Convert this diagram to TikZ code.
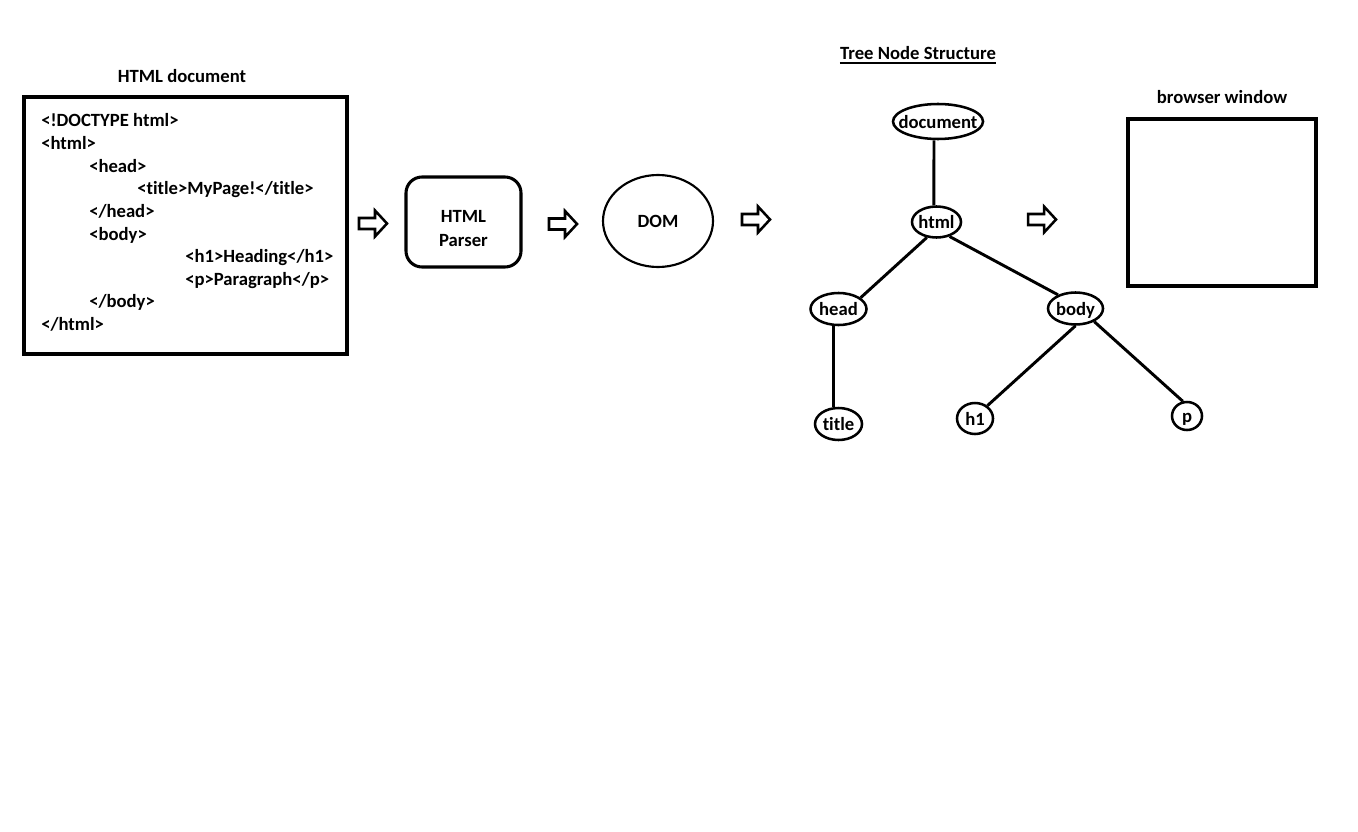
\documentclass[tikz,border=0pt]{standalone}
\usepackage{fontspec}
\setmainfont[Ligatures=NoCommon]{Carlito}
\usetikzlibrary{shapes.geometric,calc}
\newcommand\pxu{0.75pt}
\begin{document}
\begin{tikzpicture}[x=0.75pt,y=-0.75pt,
  txt/.style={font=\bfseries\fontsize{14}{17}\selectfont, inner sep=0pt},
  code/.style={txt, anchor=base west},
  frame/.style={draw, line width=2.3pt, inner sep=0pt},
  tnode/.style={draw, ellipse, line width=1.9pt, inner sep=0pt},
  tlabel/.style={txt, text height=10pt, text depth=0.2pt},
  edge/.style={line width=2.2pt},
  blockarrow/.pic={\draw[line width=1.9pt, miter limit=10]
    (0,-5.5) -- (16,-5.5) -- (16,-13) -- (28,0) -- (16,13) -- (16,5.5) -- (0,5.5) -- cycle;}
]
\useasboundingbox (0,0) rectangle (1358,831);

% source document
\node[txt, anchor=base] (doctitle) at (182,83) {HTML document};
\node[frame, minimum width=323*\pxu, minimum height=257*\pxu] (htmlbox) at (185.5,225.5) {};
\node[code] (c1)  at (41,127)    {<!DOCTYPE html>};
\node[code] (c2)  at (41,149.6)  {<html>};
\node[code] (c3)  at (89,172.2)  {<head>};
\node[code] (c4)  at (137,194.8) {<title>MyPage!</title>};
\node[code] (c5)  at (89,217.4)  {</head>};
\node[code] (c6)  at (89,240)    {<body>};
\node[code] (c7)  at (185,262.6) {<h1>Heading</h1>};
\node[code] (c8)  at (185,285.2) {<p>Paragraph</p>};
\node[code] (c9)  at (89,307.8)  {</body>};
\node[code] (c10) at (41,330.4)  {</html>};

% pipeline
\pic (arrA) at (359,223.5) {blockarrow};
\node[frame, rounded corners=16*\pxu, minimum width=115*\pxu, minimum height=90*\pxu] (parser) at (463.5,222) {};
\node[txt, align=center] (parsertext) at ($(parser)+(0,7)$) {HTML\\[1pt]Parser};
\pic (arrB) at (549,224) {blockarrow};
\node[draw, ellipse, line width=1.6pt, minimum width=110*\pxu, minimum height=92*\pxu, txt] (dom) at (658,221) {DOM};
\pic (arrC) at (742,219.5) {blockarrow};

% tree
\node[txt, anchor=base] (treetitle) at (918,60) {Tree Node Structure};
\draw[line width=1.3pt] ($(treetitle.base west)+(0,3)$) -- ($(treetitle.base east)+(0,3)$);

\node[tnode, minimum width=90*\pxu, minimum height=35*\pxu, label={[tlabel]center:document}] (doc) at (938,121.5) {};
\node[tnode, minimum width=49*\pxu, minimum height=31*\pxu, label={[tlabel]center:html}] (html) at (936.5,222) {};
\node[tnode, minimum width=56*\pxu, minimum height=32*\pxu, label={[tlabel]center:head}] (head) at (838.5,309) {};
\node[tnode, minimum width=55*\pxu, minimum height=32*\pxu, label={[tlabel]center:body}] (body) at (1075.5,308.5) {};
\node[tnode, minimum width=47*\pxu, minimum height=32*\pxu, label={[tlabel]center:title}] (title) at (838.5,424) {};
\node[tnode, minimum width=36*\pxu, minimum height=31*\pxu, label={[tlabel]center:h1}] (h1) at (975,418.5) {};
\node[tnode, minimum width=30*\pxu, minimum height=28*\pxu, label={[tlabel]center:p}] (p) at (1187,416) {};

\draw[edge] ([xshift=-3pt]doc.south) -- ([xshift=-2pt]html.north);
\draw[edge] (html.-122) -- (head.27);
\draw[edge] (html.-48) -- (body.142);
\draw[edge] ([xshift=-4pt]head.south) -- ([xshift=-4pt]title.north);
\draw[edge] (body.south) -- (h1.46);
\draw[edge] (body.-35) -- (p.106);

% output
\pic (arrD) at (1028,219.5) {blockarrow};
\node[txt, anchor=base] (wintitle) at (1222,104) {browser window};
\node[frame, minimum width=188*\pxu, minimum height=167*\pxu] (window) at (1222,202.5) {};
\end{tikzpicture}
\end{document}
